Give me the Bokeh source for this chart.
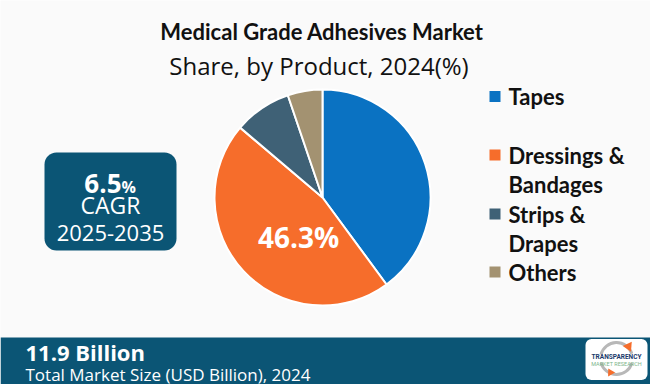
import numpy as np
from bokeh.plotting import figure
from bokeh.models import Range1d
from bokeh.core.properties import value
from bokeh.embed import file_html
from bokeh.resources import INLINE

# ---------------- data ----------------
categories = ["Tapes", "Dressings & Bandages", "Strips & Drapes", "Others"]
shares = [39.9, 46.3, 8.6, 5.2]
colors = ["#0a72c2", "#f66d2b", "#3f6176", "#a39271"]
legend_lines = [["Tapes"], ["Dressings &", "Bandages"], ["Strips &", "Drapes"], ["Others"]]
highlight_index = 1
highlight_label = "46.3%"
title_text = "Medical Grade Adhesives Market"
subtitle_text = "Share, by Product, 2024(%)"
cagr_value = "6.5"
cagr_unit = "%"
cagr_label = "CAGR"
cagr_period = "2025-2035"
market_size = "11.9 Billion"
market_caption = "Total Market Size (USD Billion), 2024"

# ---------------- layout ----------------
W, H = 650, 384
BG = "#fafafa"
DARK = "#0b5575"

p = figure(width=W, height=H,
           x_range=Range1d(0, W), y_range=Range1d(0, H),
           output_backend="svg", toolbar_location=None, min_border=0)
p.axis.visible = False
p.grid.visible = False
p.outline_line_color = None
p.background_fill_color = BG
p.border_fill_color = BG


def Y(y):
    return H - y


BOLD = value("Lato")
GEO = value("Open Sans")


def label(x, y, txt, font, size, color="#111111", bold=False, align="center"):
    p.text(x=[x], y=[Y(y)], text=[txt], text_font=font,
           text_font_style="bold" if bold else "normal",
           text_font_size=f"{size}px", text_color=color,
           text_align=align, text_baseline="middle")


# titles
label(321.5, 30.5, title_text, BOLD, 22, bold=True)
label(318.5, 65, subtitle_text, GEO, 24)

# pie
cx, cy, r = 322, 197, 108
frac = np.array(shares) / sum(shares)
cum = np.concatenate([[0], np.cumsum(frac)])
start = np.pi / 2 - 2 * np.pi * cum[1:]
end = np.pi / 2 - 2 * np.pi * cum[:-1]
p.wedge(x=[cx] * len(shares), y=[Y(cy)] * len(shares), radius=r,
        start_angle=list(start), end_angle=list(end), direction="anticlock",
        fill_color=colors, line_color="white", line_width=2)
label(298, 236.5, highlight_label, GEO, 28, color="white", bold=True)

# legend
lx_sq, lx_txt = 494.5, 508
first_center = [96, 154.5, 213.5, 271.5]
for i, lines in enumerate(legend_lines):
    p.rect(x=[lx_sq], y=[Y(first_center[i])], width=11, height=11,
           fill_color=colors[i], line_color=None)
    for j, ln in enumerate(lines):
        label(lx_txt, first_center[i] + 29.5 * j, ln, BOLD, 22, bold=True, align="left")

# CAGR box
p.rect(x=[110], y=[Y(201)], width=132, height=98, fill_color=DARK, line_color=None,
       border_radius=12)
label(121, 182.5, cagr_value, GEO, 26, color="white", bold=True, align="right")
label(121, 186, cagr_unit, GEO, 16, color="white", bold=True, align="left")
label(110, 204.5, cagr_label, GEO, 23, color="white")
label(110, 232.5, cagr_period, GEO, 22, color="white")

# bottom band
p.rect(x=[W / 2], y=[Y(360.5)], width=W, height=47, fill_color=DARK, line_color=None)
label(25, 351.5, market_size, GEO, 22, color="white", bold=True, align="left")
label(25, 373.5, market_caption, GEO, 17, color="white", align="left")

# logo
p.rect(x=[616], y=[Y(359)], width=62, height=41, fill_color="white", line_color=None,
       border_radius=6)
p.arc(x=[616], y=[Y(358)], radius=16, start_angle=0.3, end_angle=2.9,
      line_color="#b8b8b8", line_width=3)
p.arc(x=[616], y=[Y(358)], radius=16, start_angle=3.4, end_angle=6.0,
      line_color="#b8b8b8", line_width=3)
p.scatter(x=[628], y=[Y(346)], marker="triangle", size=10, angle=-0.6,
          fill_color="#f66d2b", line_color=None)
p.scatter(x=[610], y=[Y(372)], marker="triangle", size=8, angle=2.6,
          fill_color="#f66d2b", line_color=None)
label(616, 356, "TRANSPARENCY", value("Roboto"), 6.5, color="#1b3a6b", bold=True)
label(616, 363, "MARKET RESEARCH", value("Roboto"), 5.5, color="#7bb58a")

open("out.html", "w").write(file_html(p, INLINE))
